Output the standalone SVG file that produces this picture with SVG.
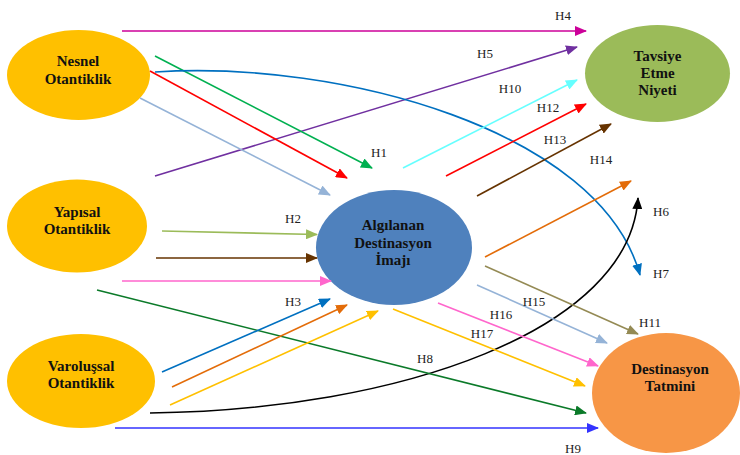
<svg xmlns="http://www.w3.org/2000/svg" width="740" height="455" viewBox="0 0 740 455">
<style>
.nt{font-family:"Liberation Serif","Times New Roman",serif;font-size:15px;font-weight:bold;fill:#111;text-anchor:middle}
.lb{font-family:"Liberation Serif","Times New Roman",serif;font-size:13px;fill:#222;text-anchor:middle}
.c{fill:none;stroke-width:1.6}
</style>
<defs>
<marker id="m-mag" viewBox="0 0 12 10" refX="11" refY="5" markerWidth="12" markerHeight="10" markerUnits="userSpaceOnUse" orient="auto"><path d="M0,0L12,5L0,10z" fill="#CC0099"/></marker>
<marker id="m-pur" viewBox="0 0 12 10" refX="11" refY="5" markerWidth="12" markerHeight="10" markerUnits="userSpaceOnUse" orient="auto"><path d="M0,0L12,5L0,10z" fill="#7030A0"/></marker>
<marker id="m-grn" viewBox="0 0 12 10" refX="11" refY="5" markerWidth="12" markerHeight="10" markerUnits="userSpaceOnUse" orient="auto"><path d="M0,0L12,5L0,10z" fill="#00B050"/></marker>
<marker id="m-red" viewBox="0 0 12 10" refX="11" refY="5" markerWidth="12" markerHeight="10" markerUnits="userSpaceOnUse" orient="auto"><path d="M0,0L12,5L0,10z" fill="#FF0000"/></marker>
<marker id="m-lbl" viewBox="0 0 12 10" refX="11" refY="5" markerWidth="12" markerHeight="10" markerUnits="userSpaceOnUse" orient="auto"><path d="M0,0L12,5L0,10z" fill="#95B3D7"/></marker>
<marker id="m-blu" viewBox="0 0 12 10" refX="11" refY="5" markerWidth="12" markerHeight="10" markerUnits="userSpaceOnUse" orient="auto"><path d="M0,0L12,5L0,10z" fill="#0070C0"/></marker>
<marker id="m-blk" viewBox="0 0 12 10" refX="11" refY="5" markerWidth="12" markerHeight="10" markerUnits="userSpaceOnUse" orient="auto"><path d="M0,0L12,5L0,10z" fill="#000000"/></marker>
<marker id="m-dgr" viewBox="0 0 12 10" refX="11" refY="5" markerWidth="12" markerHeight="10" markerUnits="userSpaceOnUse" orient="auto"><path d="M0,0L12,5L0,10z" fill="#0B7A29"/></marker>
<marker id="m-bl2" viewBox="0 0 12 10" refX="11" refY="5" markerWidth="12" markerHeight="10" markerUnits="userSpaceOnUse" orient="auto"><path d="M0,0L12,5L0,10z" fill="#3333FF"/></marker>
<marker id="m-lgr" viewBox="0 0 12 10" refX="11" refY="5" markerWidth="12" markerHeight="10" markerUnits="userSpaceOnUse" orient="auto"><path d="M0,0L12,5L0,10z" fill="#9BBB59"/></marker>
<marker id="m-brn" viewBox="0 0 12 10" refX="11" refY="5" markerWidth="12" markerHeight="10" markerUnits="userSpaceOnUse" orient="auto"><path d="M0,0L12,5L0,10z" fill="#663300"/></marker>
<marker id="m-pnk" viewBox="0 0 12 10" refX="11" refY="5" markerWidth="12" markerHeight="10" markerUnits="userSpaceOnUse" orient="auto"><path d="M0,0L12,5L0,10z" fill="#FF66CC"/></marker>
<marker id="m-org" viewBox="0 0 12 10" refX="11" refY="5" markerWidth="12" markerHeight="10" markerUnits="userSpaceOnUse" orient="auto"><path d="M0,0L12,5L0,10z" fill="#E36C09"/></marker>
<marker id="m-yel" viewBox="0 0 12 10" refX="11" refY="5" markerWidth="12" markerHeight="10" markerUnits="userSpaceOnUse" orient="auto"><path d="M0,0L12,5L0,10z" fill="#FFC000"/></marker>
<marker id="m-cyn" viewBox="0 0 12 10" refX="11" refY="5" markerWidth="12" markerHeight="10" markerUnits="userSpaceOnUse" orient="auto"><path d="M0,0L12,5L0,10z" fill="#66FFFF"/></marker>
<marker id="m-kha" viewBox="0 0 12 10" refX="11" refY="5" markerWidth="12" markerHeight="10" markerUnits="userSpaceOnUse" orient="auto"><path d="M0,0L12,5L0,10z" fill="#948A54"/></marker>
</defs>
<rect width="740" height="455" fill="#ffffff"/>

<g id="nesnel">
<ellipse cx="78.5" cy="75" rx="71.5" ry="45" fill="#FFC000"/>
<text class="nt" x="78" y="66">Nesnel</text>
<text class="nt" x="78" y="84">Otantiklik</text>
</g>
<g id="yapisal">
<ellipse cx="77" cy="226" rx="70" ry="46.5" fill="#FFC000"/>
<text class="nt" x="77" y="217">Yapısal</text>
<text class="nt" x="77" y="234">Otantiklik</text>
</g>
<g id="varolussal">
<ellipse cx="81" cy="381" rx="74" ry="47" fill="#FFC000"/>
<text class="nt" x="81" y="371">Varoluşsal</text>
<text class="nt" x="81" y="388">Otantiklik</text>
</g>
<g id="algilanan">
<ellipse cx="394" cy="247.5" rx="78" ry="57.5" fill="#4F81BD"/>
<text class="nt" x="393" y="230">Algılanan</text>
<text class="nt" x="393" y="247.5">Destinasyon</text>
<text class="nt" x="393" y="265">İmajı</text>
</g>
<g id="tavsiye">
<ellipse cx="657.5" cy="73.5" rx="72.5" ry="48.5" fill="#9BBB59"/>
<text class="nt" x="657.5" y="61">Tavsiye</text>
<text class="nt" x="657.5" y="78">Etme</text>
<text class="nt" x="657.5" y="95">Niyeti</text>
</g>
<g id="tatmin">
<ellipse cx="666" cy="393" rx="74" ry="60" fill="#F79646"/>
<text class="nt" x="670" y="374">Destinasyon</text>
<text class="nt" x="670" y="391">Tatmini</text>
</g>

<g id="connectors">
<line class="c" x1="122" y1="31" x2="586" y2="31" stroke="#CC0099" marker-end="url(#m-mag)"/>
<line class="c" x1="155" y1="176" x2="577" y2="47" stroke="#7030A0" marker-end="url(#m-pur)"/>
<line class="c" x1="155" y1="56" x2="372" y2="168" stroke="#00B050" marker-end="url(#m-grn)"/>
<line class="c" x1="150" y1="71" x2="347" y2="178" stroke="#FF0000" marker-end="url(#m-red)"/>
<line class="c" x1="140" y1="98" x2="330" y2="195" stroke="#95B3D7" marker-end="url(#m-lbl)"/>
<path class="c" d="M155,72 C340,60 600,130 640,275" stroke="#0070C0" marker-end="url(#m-blu)"/>
<path class="c" d="M150,413 C400,410 630,330 638,198" stroke="#000000" marker-end="url(#m-blk)"/>
<line class="c" x1="97" y1="290" x2="586" y2="413" stroke="#0B7A29" marker-end="url(#m-dgr)"/>
<line class="c" x1="115" y1="428" x2="598" y2="428" stroke="#3333FF" marker-end="url(#m-bl2)"/>
<line class="c" x1="162" y1="231" x2="317" y2="234.5" stroke="#9BBB59" marker-end="url(#m-lgr)"/>
<line class="c" x1="156" y1="258" x2="317" y2="258" stroke="#663300" marker-end="url(#m-brn)"/>
<line class="c" x1="122" y1="281" x2="331" y2="281" stroke="#FF66CC" marker-end="url(#m-pnk)"/>
<line class="c" x1="162" y1="372" x2="330" y2="299" stroke="#0070C0" marker-end="url(#m-blu)"/>
<line class="c" x1="172" y1="387" x2="347" y2="305" stroke="#E36C09" marker-end="url(#m-org)"/>
<line class="c" x1="170" y1="405" x2="378" y2="311" stroke="#FFC000" marker-end="url(#m-yel)"/>
<line class="c" x1="403" y1="168" x2="577" y2="80" stroke="#66FFFF" marker-end="url(#m-cyn)"/>
<line class="c" x1="446" y1="176" x2="586" y2="104" stroke="#FF0000" marker-end="url(#m-red)"/>
<line class="c" x1="477" y1="196" x2="611" y2="124" stroke="#663300" marker-end="url(#m-brn)"/>
<line class="c" x1="485" y1="257" x2="631" y2="181" stroke="#E36C09" marker-end="url(#m-org)"/>
<line class="c" x1="485" y1="266" x2="638" y2="334" stroke="#948A54" marker-end="url(#m-kha)"/>
<line class="c" x1="477" y1="285" x2="607" y2="343" stroke="#95B3D7" marker-end="url(#m-lbl)"/>
<line class="c" x1="438" y1="303" x2="598" y2="366" stroke="#FF66CC" marker-end="url(#m-pnk)"/>
<line class="c" x1="393" y1="309" x2="585" y2="386" stroke="#FFC000" marker-end="url(#m-yel)"/>
</g>

<g id="labels">
<text class="lb" x="563" y="20">H4</text>
<text class="lb" x="485" y="58">H5</text>
<text class="lb" x="510" y="93">H10</text>
<text class="lb" x="548" y="112">H12</text>
<text class="lb" x="555" y="144">H13</text>
<text class="lb" x="601" y="164">H14</text>
<text class="lb" x="379" y="157">H1</text>
<text class="lb" x="293" y="223">H2</text>
<text class="lb" x="293" y="306">H3</text>
<text class="lb" x="661" y="216">H6</text>
<text class="lb" x="661" y="278">H7</text>
<text class="lb" x="650" y="327">H11</text>
<text class="lb" x="534" y="306">H15</text>
<text class="lb" x="501" y="319">H16</text>
<text class="lb" x="482" y="338">H17</text>
<text class="lb" x="425" y="363">H8</text>
<text class="lb" x="573" y="453">H9</text>
</g>
</svg>
